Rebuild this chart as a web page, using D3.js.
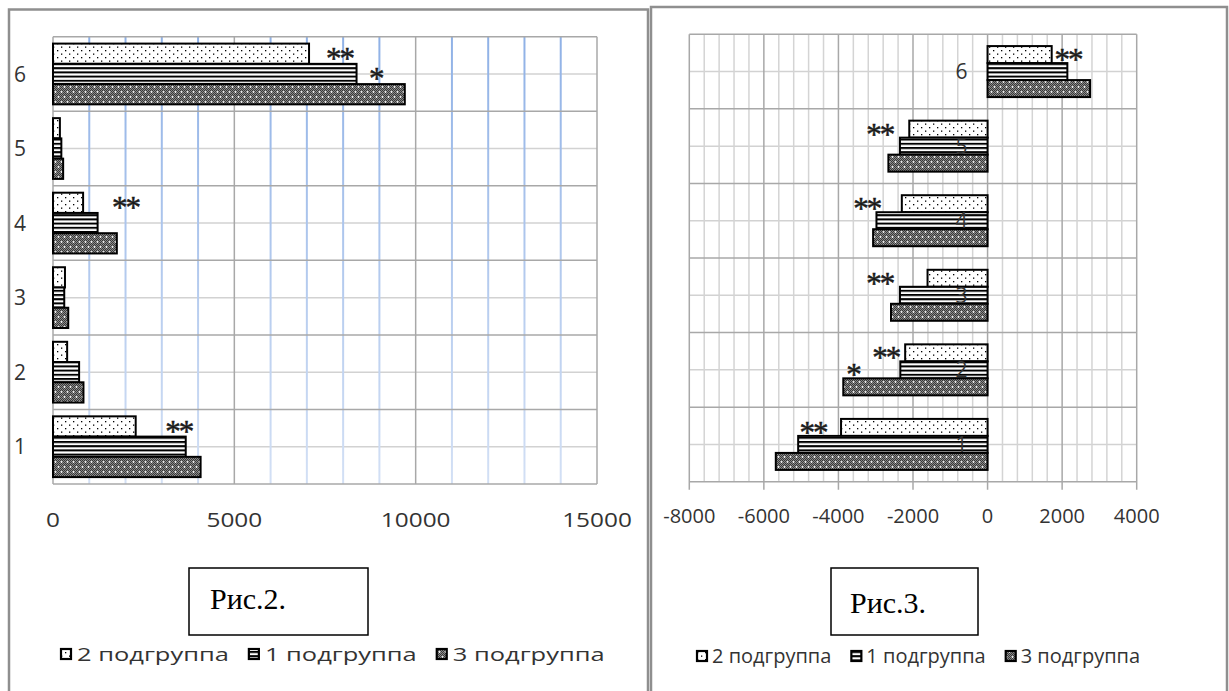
<!DOCTYPE html>
<html>
<head>
<meta charset="utf-8">
<script src="https://cdn.jsdelivr.net/npm/d3@7"></script>
<style>
  body { margin: 0; background: #fff; }
  svg { display: block; }
</style>
</head>
<body>
<div id="chart"></div>
<script>
// ---- data ----
const categories = ["1", "2", "3", "4", "5", "6"];
const seriesNames = ["2 подгруппа", "1 подгруппа", "3 подгруппа"];

// Рис.2
const fig2Sub2 = [2280, 390, 330, 830, 190, 7060];
const fig2Sub1 = [3660, 720, 310, 1230, 230, 8370];
const fig2Sub3 = [4070, 840, 420, 1760, 280, 9700];
const fig2Ticks = [0, 5000, 10000, 15000];
const fig2Stars = [
  { cat: "6", series: 0, text: "**", at: 7900 },
  { cat: "6", series: 1, text: "*", at: 8900 },
  { cat: "4", series: 0, text: "**", at: 2000 },
  { cat: "1", series: 0, text: "**", at: 3470 },
];

// Рис.3
const fig3Sub2 = [-3930, -2210, -1610, -2300, -2100, 1720];
const fig3Sub1 = [-5080, -2340, -2350, -2980, -2350, 2140];
const fig3Sub3 = [-5680, -3870, -2590, -3070, -2660, 2750];
const fig3Ticks = [-8000, -6000, -4000, -2000, 0, 2000, 4000];
const fig3Stars = [
  { cat: "6", series: 0, text: "**", at: 2160 },
  { cat: "5", series: 0, text: "**", at: -2890 },
  { cat: "4", series: 0, text: "**", at: -3240 },
  { cat: "3", series: 0, text: "**", at: -2890 },
  { cat: "2", series: 0, text: "**", at: -2730 },
  { cat: "2", series: 1, text: "*", at: -3610 },
  { cat: "1", series: 0, text: "**", at: -4680 },
];

const figTitles = ["Рис.2.", "Рис.3."];

// ---- drawing ----
const W = 1229, H = 691;
const SANS = "'Open Sans', 'DejaVu Sans', sans-serif";
const SERIF = "'Liberation Serif', 'DejaVu Serif', serif";
const patterns = ["pat-dots", "pat-lines", "pat-dark"];

const svg = d3.select("#chart").append("svg").attr("width", W).attr("height", H);
const defs = svg.append("defs");

// dotted (2 подгруппа)
const pDots = defs.append("pattern").attr("id", "pat-dots")
  .attr("patternUnits", "userSpaceOnUse").attr("width", 8).attr("height", 7);
pDots.append("rect").attr("width", 8).attr("height", 7).attr("fill", "#fff");
pDots.selectAll("rect.d").data([[1, 1], [5, 4.5]]).join("rect").attr("class", "d")
  .attr("x", (d) => d[0]).attr("y", (d) => d[1])
  .attr("width", 1.3).attr("height", 1.3).attr("fill", "#000");

// horizontal stripes (1 подгруппа)
const pLines = defs.append("pattern").attr("id", "pat-lines")
  .attr("patternUnits", "userSpaceOnUse").attr("width", 8).attr("height", 4.2);
pLines.append("rect").attr("width", 8).attr("height", 4.2).attr("fill", "#fff");
pLines.append("rect").attr("width", 8).attr("height", 2).attr("fill", "#000");

// dark checker with white crosses (3 подгруппа)
const pDark = defs.append("pattern").attr("id", "pat-dark")
  .attr("patternUnits", "userSpaceOnUse").attr("width", 6).attr("height", 10);
pDark.append("rect").attr("width", 6).attr("height", 10).attr("fill", "#8a8a8a");
const checker = [];
for (let i = 0; i < 6; i++) for (let j = 0; j < 10; j++) if ((i + j) % 2 === 0) checker.push([i, j]);
pDark.selectAll("rect.c").data(checker).join("rect").attr("class", "c")
  .attr("x", (d) => d[0]).attr("y", (d) => d[1]).attr("width", 1).attr("height", 1)
  .attr("fill", "#383838");
[[1.5, 2], [4.5, 7]].forEach(([cx, cy]) => {
  pDark.append("rect").attr("x", cx - 1).attr("y", cy - 0.4).attr("width", 2).attr("height", 0.8).attr("fill", "#fff");
  pDark.append("rect").attr("x", cx - 0.4).attr("y", cy - 1).attr("width", 0.8).attr("height", 2).attr("fill", "#fff");
});

// fading blue minor lines of Рис.2
const grad = defs.append("linearGradient").attr("id", "blueFade")
  .attr("gradientUnits", "userSpaceOnUse")
  .attr("x1", 0).attr("y1", 36).attr("x2", 0).attr("y2", 484);
grad.append("stop").attr("offset", 0).attr("stop-color", "#8fb1e6");
grad.append("stop").attr("offset", 1).attr("stop-color", "#d3e0f5");

function stretchText(sel, x, y, sx) {
  sel.attr("transform", `translate(${x},${y}) scale(${sx},1)`);
}

function drawChart(cfg) {
  const g = svg.append("g");

  // frame
  g.append("path")
    .attr("d", `M${cfg.frame[0]},${H + 10}V${cfg.frame[1]}H${cfg.frame[2]}V${H + 10}`)
    .attr("fill", "none").attr("stroke", "#8f8f8f").attr("stroke-width", 2.5);

  const x = d3.scaleLinear().domain(cfg.domain).range([cfg.left, cfg.right]);
  const yBand = d3.scaleBand()
    .domain(categories.slice().reverse())
    .range([cfg.top, cfg.bottom])
    .paddingInner(cfg.pad).paddingOuter(cfg.pad / 2);
  const ySub = d3.scaleBand().domain(seriesNames).range([0, yBand.bandwidth()]);
  const yGrid = d3.scaleLinear().domain([0, categories.length]).range([cfg.bottom, cfg.top]);

  const grid = g.append("g").attr("class", "grid");
  const hLines = d3.range(0, categories.length + 0.01, 0.5);
  grid.selectAll("line.hmin").data(hLines.filter((v) => v % 1 !== 0)).join("line")
    .attr("class", "hmin")
    .attr("x1", cfg.left).attr("x2", cfg.right)
    .attr("y1", (d) => yGrid(d)).attr("y2", (d) => yGrid(d))
    .attr("stroke", "#d2d2d2").attr("stroke-width", 1.5);

  const vAll = d3.range(cfg.domain[0], cfg.domain[1] + 1, cfg.minorStep);
  grid.selectAll("line.vmin").data(vAll.filter((v) => v % cfg.majorStep !== 0)).join("line")
    .attr("class", "vmin")
    .attr("x1", (d) => x(d)).attr("x2", (d) => x(d))
    .attr("y1", cfg.top).attr("y2", cfg.bottom)
    .attr("stroke", cfg.minorColor).attr("stroke-width", cfg.minorWidth);

  grid.selectAll("line.hmaj").data(hLines.filter((v) => v % 1 === 0)).join("line")
    .attr("class", "hmaj")
    .attr("x1", cfg.left).attr("x2", cfg.right)
    .attr("y1", (d) => yGrid(d)).attr("y2", (d) => yGrid(d))
    .attr("stroke", "#a8a8a8").attr("stroke-width", 1.5);

  const majors = d3.range(cfg.domain[0], cfg.domain[1] + 1, cfg.majorStep);
  grid.selectAll("line.vmaj").data(majors).join("line")
    .attr("class", "vmaj")
    .attr("x1", (d) => x(d)).attr("x2", (d) => x(d))
    .attr("y1", cfg.top).attr("y2", cfg.bottom + cfg.tickLen)
    .attr("stroke", "#a8a8a8").attr("stroke-width", 1.5);

  // bars
  const bars = categories.flatMap((c, i) =>
    cfg.series.map((vals, s) => ({ cat: c, series: seriesNames[s], value: vals[i], pat: patterns[s] }))
  );
  g.append("g").attr("class", "bars")
    .selectAll("rect").data(bars).join("rect")
    .attr("x", (d) => x(Math.min(0, d.value)))
    .attr("width", (d) => Math.abs(x(d.value) - x(0)))
    .attr("y", (d) => yBand(d.cat) + ySub(d.series))
    .attr("height", ySub.bandwidth())
    .attr("fill", (d) => `url(#${d.pat})`)
    .attr("stroke", "#000").attr("stroke-width", 2);

  // category labels
  g.append("g").attr("class", "cats")
    .selectAll("text").data(categories).join("text")
    .attr("x", x(0) - cfg.catOffset)
    .attr("y", (d) => yBand(d) + yBand.bandwidth() / 2)
    .attr("dy", "0.36em")
    .attr("text-anchor", "end")
    .attr("font-family", SANS).attr("font-size", cfg.catFont).attr("fill", "#333")
    .text((d) => d);

  // value tick labels
  g.append("g").attr("class", "ticks")
    .selectAll("text").data(cfg.ticks).join("text")
    .each(function (d) { stretchText(d3.select(this), x(d), cfg.tickY, cfg.tickSx); })
    .attr("dy", "0.36em")
    .attr("text-anchor", "middle")
    .attr("font-family", SANS).attr("font-size", cfg.tickFont).attr("fill", "#333")
    .text((d) => d);

  // significance marks
  g.append("g").attr("class", "stars")
    .selectAll("text").data(cfg.stars).join("text")
    .attr("x", (d) => x(d.at))
    .attr("y", (d) => yBand(d.cat) + ySub(seriesNames[d.series]) + ySub.bandwidth() / 2)
    .attr("dy", "0.5em")
    .attr("text-anchor", "middle")
    .attr("letter-spacing", -2)
    .attr("font-family", SERIF).attr("font-size", 31).attr("fill", "#1a1a1a")
    .attr("stroke", "#1a1a1a").attr("stroke-width", 0.5)
    .text((d) => d.text);

  // figure caption box
  g.append("rect")
    .attr("x", cfg.box[0]).attr("y", cfg.box[1]).attr("width", cfg.box[2]).attr("height", cfg.box[3])
    .attr("fill", "#fff").attr("stroke", "#000").attr("stroke-width", 1.5);
  g.append("text")
    .attr("x", cfg.box[0] + cfg.titlePad).attr("y", cfg.titleY)
    .attr("font-family", SERIF).attr("font-size", 30).attr("fill", "#000")
    .text(cfg.title);

  // legend
  const legend = g.append("g").attr("class", "legend");
  let cx = cfg.legendX;
  const ICON = 10;
  seriesNames.forEach((name, s) => {
    legend.append("rect")
      .attr("x", cx).attr("y", cfg.legendY - ICON / 2)
      .attr("width", ICON).attr("height", ICON)
      .attr("fill", `url(#${patterns[s]})`).attr("stroke", "#000").attr("stroke-width", 2.2);
    const t = legend.append("text")
      .attr("dy", "0.36em")
      .attr("font-family", SANS).attr("font-size", cfg.legendFont).attr("fill", "#333")
      .text(name);
    const tx = cx + ICON + cfg.iconGap;
    stretchText(t, tx, cfg.legendY, cfg.legendSx);
    cx = tx + t.node().getComputedTextLength() * cfg.legendSx + cfg.itemGap;
  });
}

drawChart({
  frame: [9, 9.5, 648],
  left: 53, right: 597, top: 36.7, bottom: 484,
  domain: [0, 15000], minorStep: 1000, majorStep: 5000,
  minorColor: "url(#blueFade)", minorWidth: 2, tickLen: 0,
  pad: 0.185,
  series: [fig2Sub2, fig2Sub1, fig2Sub3],
  stars: fig2Stars,
  ticks: fig2Ticks,
  catOffset: 27, catFont: 21,
  tickY: 520, tickFont: 19.5, tickSx: 1.25,
  box: [189, 568, 179, 67], title: figTitles[0], titlePad: 21, titleY: 608.5,
  legendX: 61, legendY: 654, legendFont: 19, legendSx: 1.34, iconGap: 6, itemGap: 20,
});

drawChart({
  frame: [651, 7, 1227],
  left: 689.3, right: 1136.7, top: 34.3, bottom: 481.7,
  domain: [-8000, 4000], minorStep: 400, majorStep: 2000,
  minorColor: "#d4d4d4", minorWidth: 1.5, tickLen: 8,
  pad: 0.316,
  series: [fig3Sub2, fig3Sub1, fig3Sub3],
  stars: fig3Stars,
  ticks: fig3Ticks,
  catOffset: 20, catFont: 21,
  tickY: 515.5, tickFont: 20, tickSx: 1,
  box: [831, 568, 147, 67], title: figTitles[1], titlePad: 19, titleY: 613,
  legendX: 697, legendY: 656, legendFont: 20, legendSx: 1, iconGap: 5, itemGap: 20,
});
</script>
</body>
</html>
